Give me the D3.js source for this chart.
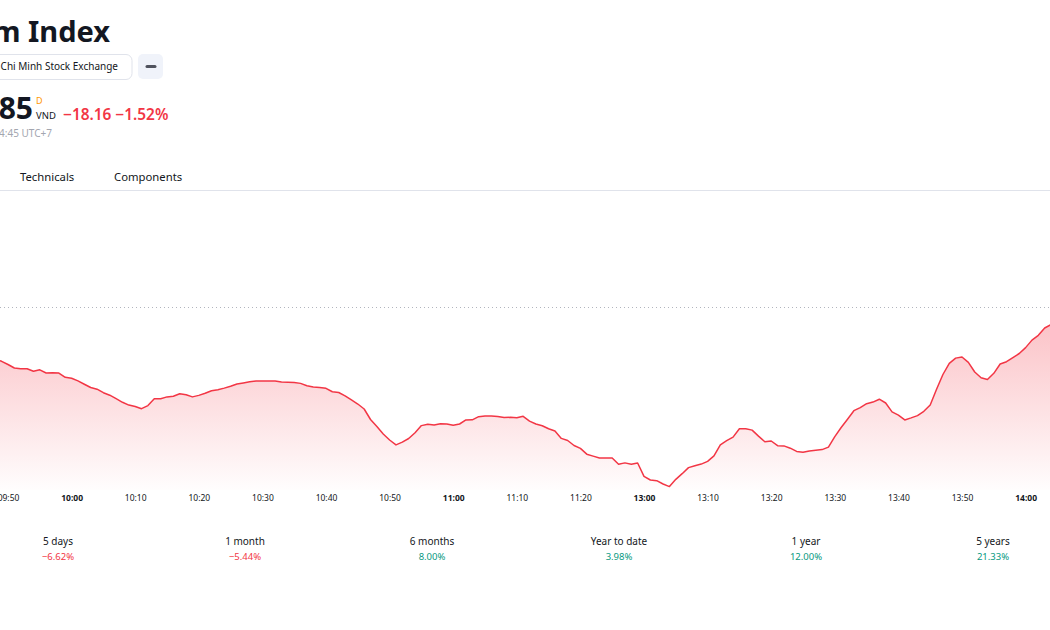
<!DOCTYPE html>
<html>
<head>
<meta charset="utf-8">
<script src="https://cdn.jsdelivr.net/npm/d3@7"></script>
<style>
  html, body { margin: 0; padding: 0; background: #fff; overflow: hidden; }
  svg { display: block; font-family: "Noto Sans", "Open Sans", sans-serif; }
</style>
</head>
<body>
<div id="chart"></div>
<script>
// Dimensiones
const width = 1050;
const height = 630;

// Datos del gráfico (un punto por minuto, la pausa de mediodía se omite)
const sessions = [["09:48", "11:29"], ["13:00", "14:05"]];
const prices = [
  1186.33, 1185.95, 1185.42, 1184.83, 1184.72, 1184.70, 1184.28, 1184.53, 1184.00, 1184.05,
  1183.98, 1183.28, 1183.12, 1182.68, 1182.12, 1181.58, 1181.30, 1180.72, 1180.30, 1179.72,
  1179.12, 1178.65, 1178.42, 1178.05, 1178.57, 1179.72, 1179.72, 1180.02, 1180.12, 1180.53,
  1180.38, 1180.02, 1180.27, 1180.62, 1181.03, 1181.22, 1181.48, 1181.80, 1182.17, 1182.35,
  1182.53, 1182.67, 1182.67, 1182.67, 1182.67, 1182.50, 1182.47, 1182.42, 1182.27, 1181.87,
  1181.65, 1181.60, 1181.45, 1180.87, 1180.75, 1180.20, 1179.53, 1178.83, 1178.00, 1176.25,
  1175.08, 1173.83, 1172.83, 1172.02, 1172.48, 1173.08, 1174.05, 1175.23, 1175.47, 1175.32,
  1175.55, 1175.50, 1175.28, 1175.50, 1176.17, 1176.20, 1176.72, 1176.82, 1176.83, 1176.75,
  1176.57, 1176.62, 1176.55, 1176.78, 1175.98, 1175.50, 1175.20, 1174.70, 1174.33, 1173.10,
  1172.75, 1171.92, 1171.43, 1170.47, 1170.15, 1169.83, 1169.83, 1169.83, 1168.78, 1169.02,
  1168.80, 1169.00,
  // tarde
  1166.78, 1166.17, 1166.05, 1165.50, 1165.07, 1166.28, 1167.22, 1168.23, 1168.55, 1168.82,
  1169.28, 1170.18, 1172.03, 1172.72, 1173.32, 1174.72, 1174.70, 1174.48, 1173.48, 1172.55,
  1172.67, 1171.88, 1171.85, 1171.47, 1170.93, 1170.78, 1171.00, 1171.13, 1171.23, 1171.65,
  1173.40, 1174.92, 1176.30, 1177.72, 1178.23, 1178.88, 1179.15, 1179.63, 1179.00, 1177.53,
  1176.97, 1176.18, 1176.52, 1176.90, 1177.62, 1178.67, 1181.28, 1183.75, 1185.60, 1186.48,
  1186.67, 1185.78, 1184.17, 1183.20, 1182.92, 1183.95, 1185.50, 1185.88, 1186.57, 1187.25,
  1188.23, 1189.48, 1190.28, 1191.50, 1192.08, 1192.50
];
const prevClose = 1195.01;
const tickTimes = ["09:50", "10:00", "10:10", "10:20", "10:30", "10:40", "10:50", "11:00", "11:10", "11:20",
                   "13:00", "13:10", "13:20", "13:30", "13:40", "13:50", "14:00"];

// Rendimiento
const perfLabels = ["5 days", "1 month", "6 months", "Year to date", "1 year", "5 years"];
const perfValues = [-6.62, -5.44, 8.00, 3.98, 12.00, 21.33];

const red = "#f23645";
const green = "#089981";
const textColor = "#131722";

// Lista de minutos de cada sesión
function minutesOf(s) {
  const [h, m] = s.split(":").map(Number);
  return h * 60 + m;
}
const times = [];
sessions.forEach(([a, b]) => {
  for (let t = minutesOf(a); t <= minutesOf(b); t++) {
    times.push(String(Math.floor(t / 60)).padStart(2, "0") + ":" + String(t % 60).padStart(2, "0"));
  }
});
const data = times.map((t, i) => ({ time: t, value: prices[i] }));

const svg = d3.select("#chart").append("svg")
  .attr("width", width)
  .attr("height", height);

// ---------- Cabecera ----------
svg.append("text")
  .attr("x", 110).attr("y", 42)
  .attr("text-anchor", "end")
  .attr("font-size", 29).attr("font-weight", 700)
  .attr("fill", textColor)
  .text("Vietnam Index");

svg.append("rect")
  .attr("x", -20).attr("y", 54.5).attr("width", 152).attr("height", 25)
  .attr("rx", 6).attr("fill", "#fff").attr("stroke", "#e0e3eb");
svg.append("text")
  .attr("x", 118).attr("y", 70)
  .attr("text-anchor", "end")
  .attr("font-size", 10).attr("fill", textColor)
  .text("Ho Chi Minh Stock Exchange");

svg.append("rect")
  .attr("x", 138).attr("y", 54).attr("width", 25).attr("height", 25)
  .attr("rx", 5).attr("fill", "#f0f3fa");
svg.append("line")
  .attr("x1", 147).attr("x2", 155).attr("y1", 66.5).attr("y2", 66.5)
  .attr("stroke", "#50535e").attr("stroke-width", 3).attr("stroke-linecap", "round");

svg.append("text")
  .attr("x", 33).attr("y", 119)
  .attr("text-anchor", "end")
  .attr("font-size", 30).attr("font-weight", 700)
  .attr("fill", textColor)
  .text("1,176.85");
svg.append("text")
  .attr("x", 36).attr("y", 104)
  .attr("font-size", 9).attr("fill", "#ff9800")
  .text("D");
svg.append("text")
  .attr("x", 36).attr("y", 119)
  .attr("font-size", 9.5).attr("fill", textColor)
  .text("VND");
svg.append("text")
  .attr("x", 63).attr("y", 120)
  .attr("font-size", 15.4).attr("font-weight", 600)
  .attr("fill", red)
  .text("\u221218.16 \u22121.52%");
svg.append("text")
  .attr("x", 52).attr("y", 137)
  .attr("text-anchor", "end")
  .attr("font-size", 10).attr("fill", "#a3a6af")
  .text("At close 14:45 UTC+7");

// Pestañas
svg.append("text")
  .attr("x", 20).attr("y", 181)
  .attr("font-size", 11.3).attr("fill", textColor)
  .text("Technicals");
svg.append("text")
  .attr("x", 114).attr("y", 181)
  .attr("font-size", 11.3).attr("fill", textColor)
  .text("Components");
svg.append("line")
  .attr("x1", 0).attr("x2", width).attr("y1", 190.5).attr("y2", 190.5)
  .attr("stroke", "#e0e3eb");

// ---------- Gráfico ----------
const pxPerMin = 6.36;
const x0 = 8 - 2 * pxPerMin; // 09:50 queda en x = 8
const x = d3.scalePoint()
  .domain(times)
  .range([x0, x0 + pxPerMin * (times.length - 1)]);

const plotBottom = 490;
const y = d3.scaleLinear()
  .domain([1165, 1195])
  .range([487, 307]);

// Degradado del área
const defs = svg.append("defs");
const grad = defs.append("linearGradient")
  .attr("id", "areaGrad")
  .attr("gradientUnits", "userSpaceOnUse")
  .attr("x1", 0).attr("x2", 0)
  .attr("y1", y(d3.max(prices))).attr("y2", plotBottom);
grad.append("stop").attr("offset", 0).attr("stop-color", red).attr("stop-opacity", 0.3);
grad.append("stop").attr("offset", 1).attr("stop-color", red).attr("stop-opacity", 0.01);

const area = d3.area()
  .x(d => x(d.time))
  .y0(plotBottom)
  .y1(d => y(d.value));

const line = d3.line()
  .x(d => x(d.time))
  .y(d => y(d.value));

svg.append("path")
  .datum(data)
  .attr("d", area)
  .attr("fill", "url(#areaGrad)");

// Cierre anterior (línea punteada)
svg.append("line")
  .attr("x1", 0).attr("x2", width)
  .attr("y1", Math.round(y(prevClose)) + 0.5).attr("y2", Math.round(y(prevClose)) + 0.5)
  .attr("stroke", "#b2b5be")
  .attr("stroke-dasharray", "1,3");

svg.append("path")
  .datum(data)
  .attr("d", line)
  .attr("fill", "none")
  .attr("stroke", red)
  .attr("stroke-width", 1.5)
  .attr("stroke-linejoin", "round");

// Eje de tiempo
const xAxis = svg.append("g")
  .attr("transform", `translate(0, ${plotBottom})`)
  .call(d3.axisBottom(x).tickValues(tickTimes).tickSize(0).tickPadding(5));
xAxis.select(".domain").remove();
xAxis.selectAll("text")
  .attr("font-family", "'Noto Sans', sans-serif")
  .attr("font-size", 8.5)
  .attr("fill", textColor)
  .attr("font-weight", d => d.endsWith(":00") ? 700 : 400);

// ---------- Rendimiento ----------
const perf = svg.append("g");
perfLabels.forEach((label, i) => {
  const cx = 58 + 187 * i;
  perf.append("text")
    .attr("x", cx).attr("y", 545)
    .attr("text-anchor", "middle")
    .attr("font-size", 10).attr("fill", textColor)
    .text(label);
  const v = perfValues[i];
  perf.append("text")
    .attr("x", cx).attr("y", 560)
    .attr("text-anchor", "middle")
    .attr("font-size", 9.5)
    .attr("fill", v < 0 ? red : green)
    .text((v < 0 ? "\u2212" : "") + Math.abs(v).toFixed(2) + "%");
});
</script>
</body>
</html>
